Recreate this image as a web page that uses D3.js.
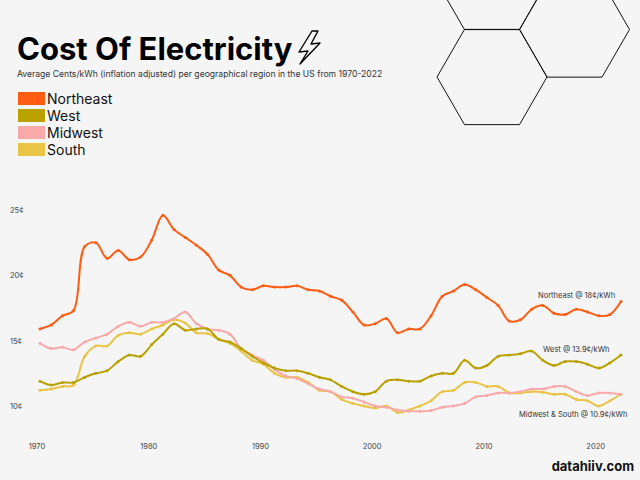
<!DOCTYPE html>
<html>
<head>
<meta charset="utf-8">
<script src="https://cdn.jsdelivr.net/npm/d3@7"></script>
<style>
  body { margin: 0; background: #f5f5f5; }
  svg { display: block; font-family: Inter, "Open Sans", sans-serif; }
</style>
</head>
<body>
<svg id="chart" width="640" height="480"></svg>
<script>
// data (cents/kWh)
var years = d3.range(1970, 2023)
var northeast = [15.9,16.2,16.9,17.3,22.2,22.5,21.3,21.9,21.2,21.4,22.7,24.6,23.5,22.9,22.3,21.6,20.4,20.0,19.1,18.9,19.2,19.1,19.1,19.2,18.9,18.8,
  18.4,18.1,17.2,16.2,16.3,16.7,15.6,15.9,15.9,16.9,18.4,18.8,19.3,18.9,18.3,17.7,16.5,16.6,17.4,17.7,17.1,17.0,17.4,17.2,16.9,17.0,18.0]
var west = [11.9,11.6,11.8,11.8,12.2,12.5,12.7,13.4,13.9,13.8,14.7,15.5,16.3,15.8,15.9,15.9,15.1,14.9,14.4,13.8,13.3,12.9,12.7,12.7,12.5,12.2,
  12.0,11.5,11.1,10.9,11.1,11.9,12.0,11.9,11.9,12.3,12.5,12.5,13.5,12.9,13.1,13.8,13.9,14.0,14.2,13.5,13.1,13.4,13.4,13.2,12.9,13.3,13.9]
var midwest = [14.8,14.4,14.5,14.3,14.9,15.2,15.5,16.1,16.4,16.1,16.4,16.4,16.7,17.2,16.3,15.9,15.8,15.5,14.4,13.9,13.5,12.8,12.3,12.1,11.7,11.3,
  11.1,10.7,10.6,10.3,10.0,9.9,9.7,9.6,9.6,9.65,9.9,10.0,10.2,10.7,10.8,11.0,11.0,11.1,11.3,11.3,11.5,11.5,11.1,10.8,11.0,11.0,10.9]
var south = [11.2,11.3,11.5,11.6,13.8,14.6,14.6,15.4,15.6,15.5,15.9,16.2,16.6,16.35,15.6,15.55,15.1,14.8,14.2,13.5,13.2,12.5,12.2,12.2,11.8,11.2,
  11.1,10.5,10.2,10.0,9.85,10.0,9.5,9.7,10.0,10.4,11.1,11.2,11.8,11.8,11.5,11.5,11.0,11.0,11.1,11.05,10.9,10.9,10.5,10.4,10.0,10.4,10.9]
var regions = ["Northeast", "West", "Midwest", "South"]
var colors = ["#ff5c14", "#b9a100", "#f9a9a9", "#e9c445"]
var series = [northeast, west, midwest, south]
var yTicks = [10, 15, 20, 25]
var xTicks = [1970, 1980, 1990, 2000, 2010, 2020]

var svg = d3.select("#chart")
svg.append("rect").attr("width", 640).attr("height", 480).attr("fill", "#f5f5f5")

// hexagon decoration
function hex(cx, cy, r) {
    var pts = d3.range(6).map(function (i) {
        var a = Math.PI / 3 * i
        return [cx + r * Math.cos(a), cy + r * Math.sin(a)]
    })
    return "M" + pts.join("L") + "Z"
}
[[492, 77], [574.5, 29.5], [492, -18]].forEach(function (c) {
    svg.append("path").attr("d", hex(c[0], c[1], 55))
        .attr("fill", "none").attr("stroke", "#111").attr("stroke-width", 1)
})

// title
svg.append("text").attr("x", 17).attr("y", 60)
    .attr("font-size", 31).attr("font-weight", 700).attr("fill", "#000")
    .text("Cost Of Electricity")
svg.append("path")
    .attr("d", "M312,31 L299,52 L308,51 L300,64 L320,43 L311,44 L318,31 Z")
    .attr("fill", "none").attr("stroke", "#000").attr("stroke-width", 1.4).attr("stroke-linejoin", "round")
svg.append("text").attr("x", 17).attr("y", 77)
    .attr("font-size", 8.6).attr("fill", "#333")
    .text("Average Cents/kWh (inflation adjusted) per geographical region in the US from 1970-2022")

// legend
regions.forEach(function (r, i) {
    svg.append("rect").attr("x", 18).attr("y", 92 + i * 17).attr("width", 27).attr("height", 13)
        .attr("fill", colors[i])
    svg.append("text").attr("x", 47).attr("y", 103.5 + i * 17)
        .attr("font-size", 14).attr("fill", "#111").text(r)
})

// scales
var x = d3.scaleLinear().domain([1970, 2022]).range([40, 621])
var y = d3.scaleLinear().domain([10, 25]).range([406, 210])

var xAxis = svg.append("g").attr("transform", "translate(-3,0)")
xAxis.selectAll("text").data(xTicks).enter().append("text")
    .attr("x", function (d) { return x(d) }).attr("y", 449)
    .attr("text-anchor", "middle").attr("font-size", 7.5).attr("fill", "#444")
    .text(function (d) { return d })
svg.selectAll(".ylab").data(yTicks).enter().append("text")
    .attr("x", 10).attr("y", function (d) { return y(d) + 3 })
    .attr("font-size", 7.5).attr("fill", "#444")
    .text(function (d) { return d + "¢" })

var line = d3.line()
    .x(function (d, i) { return x(years[i]) })
    .y(function (d) { return y(d) })
    .curve(d3.curveCatmullRom)

// draw south first so it sits under the others as in the picture
var order = [3, 2, 1, 0]
order.forEach(function (k) {
    svg.append("path").datum(series[k]).attr("d", line)
        .attr("fill", "none").attr("stroke", colors[k]).attr("stroke-width", 2)
    svg.append("g").selectAll("circle").data(series[k]).enter().append("circle")
        .attr("cx", function (d, i) { return x(years[i]) })
        .attr("cy", function (d) { return y(d) })
        .attr("r", 1.5).attr("fill", colors[k])
})

// end labels
var notes = [["Northeast @ 18¢/kWh", 538, 298], ["West @ 13.9¢/kWh", 543, 352], ["Midwest & South @ 10.9¢/kWh", 519, 417]]
notes.forEach(function (n) {
    svg.append("text").attr("x", n[1]).attr("y", n[2]).attr("font-size", 7.5).attr("fill", "#333").text(n[0])
})

svg.append("text").attr("x", 634).attr("y", 471).attr("text-anchor", "end")
    .attr("font-size", 13).attr("font-weight", 700).attr("fill", "#111").text("datahiiv.com")
</script>
</body>
</html>
